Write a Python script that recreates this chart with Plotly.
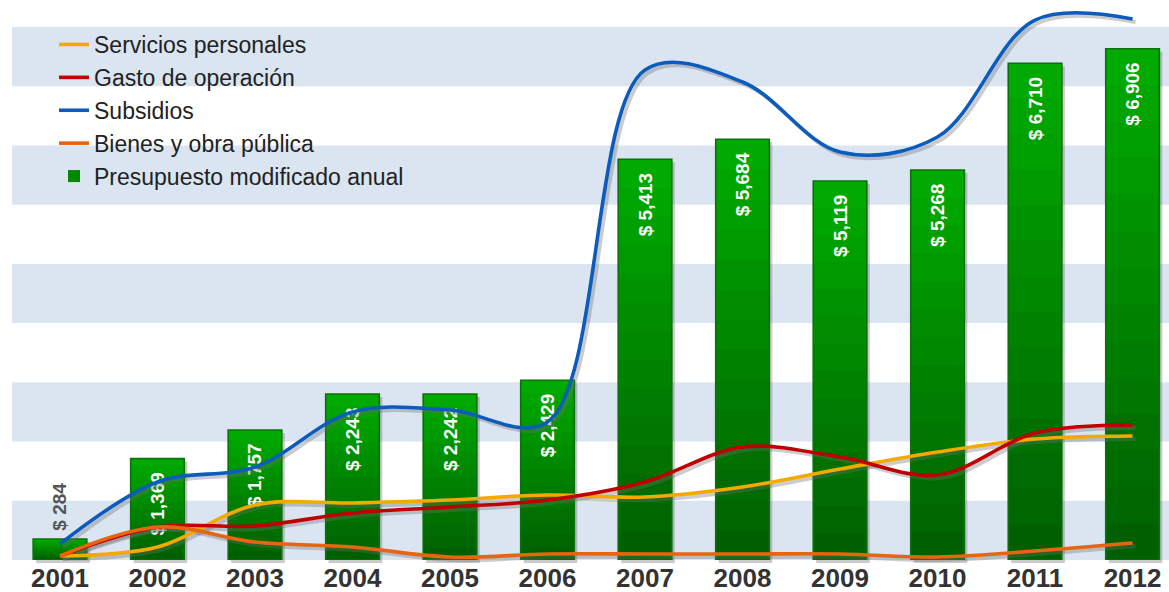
import plotly.graph_objects as go

# ---------------- data ----------------
years = ["2001", "2002", "2003", "2004", "2005", "2006",
         "2007", "2008", "2009", "2010", "2011", "2012"]
presupuesto = [284, 1369, 1757, 2243, 2242, 2429, 5413, 5684, 5119, 5268, 6710, 6906]
servicios = [54, 176, 743, 770, 810, 878, 851, 986, 1229, 1459, 1634, 1675]
gasto = [54, 446, 459, 635, 716, 810, 1054, 1526, 1391, 1148, 1715, 1824]
subsidios = [216, 1054, 1256, 2000, 2026, 1864, 6620, 6457, 5511, 5714, 7294, 7308]
bienes = [54, 446, 243, 176, 40, 81, 81, 81, 81, 40, 122, 230]
bar_labels = [f"$ {v:,}" for v in presupuesto]

# ---------------- geometry ----------------
W, H = 1169, 592
ML, MR, MT, MB = 12, 0, 8, 29
PW = W - ML - MR            # 1157
PH = H - MT - MB            # 555
SH = 3                      # shadow offset (px)
ex = SH / PW
ey = SH / PH
PX_PER_UNIT = 533 / 7200
YMAX = (PH - SH) / PX_PER_UNIT
XR = [-0.492, 11.343]
BAND = 800
BAND_TOP = 7200
BAND_COLOR = "#dae5f1"
FONT = "Liberation Sans, Arial, sans-serif"

fig = go.Figure()

# bar shadows (subplot x/y, shifted)
fig.add_trace(go.Bar(
    x=years, y=presupuesto, width=0.55, xaxis="x", yaxis="y",
    marker=dict(color="rgba(70,70,70,0.28)", line=dict(width=0)),
    showlegend=False, hoverinfo="skip"))

# gradient bars: overlapping layers, each from a higher base up to the value
N = 14
c0 = (0, 96, 0)
c1 = (0, 170, 0)
for i in range(N):
    t = i / (N - 1)
    col = "rgb({},{},{})".format(*[round(a + (b - a) * t) for a, b in zip(c0, c1)])
    fig.add_trace(go.Bar(
        x=years, y=[v * (N - i) / N for v in presupuesto], base=[v * i / N for v in presupuesto],
        width=0.55, xaxis="x2", yaxis="y2",
        marker=dict(color=col, line=dict(width=0)),
        name="Presupuesto modificado anual",
        showlegend=(i == N // 2), legendrank=5, hoverinfo="skip"))

# outline + labels
positions = ["outside" if v < 600 else "inside" for v in presupuesto]
texts = ["\u00a0" + s if p == "outside" else s + "\u00a0\u00a0"
         for s, p in zip(bar_labels, positions)]
fig.add_trace(go.Bar(
    x=years, y=presupuesto, width=0.55, xaxis="x2", yaxis="y2",
    marker=dict(color="rgba(0,0,0,0)", line=dict(color="#0b720b", width=1.6)),
    text=texts, textposition=positions, textangle=-90,
    insidetextanchor="end", constraintext="none", cliponaxis=False,
    insidetextfont=dict(family=FONT, size=19, color="white", weight="bold"),
    outsidetextfont=dict(family=FONT, size=19, color="#555555", weight="bold"),
    showlegend=False, hoverinfo="skip"))

series = [
    ("Servicios personales", servicios, "#f2a900", 1),
    ("Gasto de operación", gasto, "#c00000", 2),
    ("Subsidios", subsidios, "#0b5cbd", 3),
    ("Bienes y obra pública", bienes, "#e8650f", 4),
]

# line shadows
for name, vals, col, rk in series:
    fig.add_trace(go.Scatter(
        x=years, y=vals, mode="lines", xaxis="x3", yaxis="y3",
        line=dict(color="rgba(110,110,110,0.35)", width=4, shape="spline", smoothing=1),
        showlegend=False, hoverinfo="skip"))

# lines
for name, vals, col, rk in series:
    fig.add_trace(go.Scatter(
        x=years, y=vals, mode="lines", xaxis="x4", yaxis="y4", name=name,
        line=dict(color=col, width=3.6, shape="spline", smoothing=1),
        legendrank=rk))

# background bands (paper coords)
def vy(v):
    px = (H - MB - SH) - v * PX_PER_UNIT
    return (H - MB - px) / PH

shapes = []
lo = 0
while lo < BAND_TOP:
    shapes.append(dict(type="rect", xref="paper", yref="paper", x0=0, x1=1,
                       y0=vy(lo), y1=vy(lo + BAND), fillcolor=BAND_COLOR,
                       line=dict(width=0), layer="below"))
    lo += 2 * BAND

hidden = dict(visible=False, showgrid=False, zeroline=False, fixedrange=True)
xcommon = dict(type="category", categoryorder="array", categoryarray=years, range=XR)

fig.update_layout(
    width=W, height=H,
    margin=dict(l=ML, r=MR, t=MT, b=MB),
    paper_bgcolor="white", plot_bgcolor="rgba(0,0,0,0)",
    barmode="overlay",
    shapes=shapes,
    xaxis=dict(domain=[ex, 1], anchor="y", **xcommon, **hidden),
    yaxis=dict(domain=[0, 1 - ey], anchor="x", range=[0, YMAX], **hidden),
    xaxis2=dict(domain=[0, 1 - ex], anchor="y2", **xcommon,
                visible=True, showgrid=False, zeroline=False, showline=False,
                ticks="", tickfont=dict(family=FONT, size=26, color="#333333", weight="bold"),
                fixedrange=True),
    yaxis2=dict(domain=[ey, 1], anchor="x2", range=[0, YMAX], **hidden),
    xaxis3=dict(domain=[ex, 1], anchor="y3", **xcommon, **hidden),
    yaxis3=dict(domain=[0, 1 - ey], anchor="x3", range=[0, YMAX], **hidden),
    xaxis4=dict(domain=[0, 1 - ex], anchor="y4", **xcommon, **hidden),
    yaxis4=dict(domain=[ey, 1], anchor="x4", range=[0, YMAX], **hidden),
    legend=dict(x=(54 - ML) / PW, y=(H - MB - 23) / PH, xanchor="left", yanchor="top",
                bgcolor="rgba(0,0,0,0)", font=dict(family=FONT, size=23, color="#222222"),
                tracegroupgap=0, itemwidth=30),
    hovermode=False,
)

fig.write_html("out.html", config={"displayModeBar": False},
               post_script="document.body.style.margin='0';")
